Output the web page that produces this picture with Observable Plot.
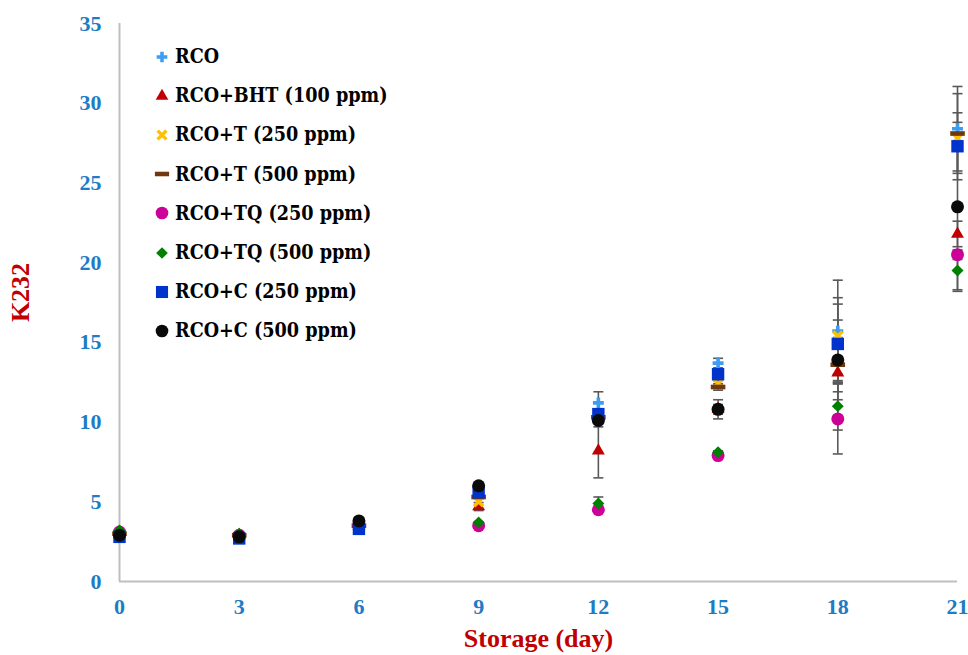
<!DOCTYPE html>
<html><head><meta charset="utf-8">
<script src="https://cdn.jsdelivr.net/npm/d3@7"></script>
<script src="https://cdn.jsdelivr.net/npm/@observablehq/plot@0.6"></script>
<style>
body{margin:0;background:#fff;}
#wrap{position:relative;width:968px;height:655px;overflow:hidden;background:#fff;}
#legend{position:absolute;left:150px;top:37px;font-family:"DejaVu Serif Condensed","DejaVu Serif",serif;font-stretch:condensed;font-weight:bold;font-size:19.6px;color:#000;}
.row{display:flex;align-items:center;height:39.2px;white-space:nowrap;}
.row svg{width:24px;height:20px;flex:none;overflow:visible;}
.row span{margin-left:1px;}
</style></head><body><div id="wrap"></div>
<script>
// ---- data ----
const days = [0, 3, 6, 9, 12, 15, 18, 21];
const xTicks = [0, 3, 6, 9, 12, 15, 18, 21];
const yTicks = [0, 5, 10, 15, 20, 25, 30, 35];
const xTitle = "Storage (day)";
const yTitle = "K232";
const seriesNames = ["RCO", "RCO+BHT (100 ppm)", "RCO+T (250 ppm)", "RCO+T (500 ppm)",
  "RCO+TQ (250 ppm)", "RCO+TQ (500 ppm)", "RCO+C (250 ppm)", "RCO+C (500 ppm)"];
const rco    = [2.9, 2.7, 3.4, 5.5, 11.2, 13.7, 15.7, 28.4];
const bht    = [3.0, 2.9, 3.5, 4.7, 8.2, 10.8, 13.1, 21.8];
const t250   = [3.0, 2.9, 3.5, 5.0, 10.4, 12.4, 15.4, 27.8];
const t500   = [3.0, 2.9, 3.5, 5.3, 10.3, 12.2, 13.6, 28.1];
const tq250  = [3.1, 2.9, 3.5, 3.5, 4.5, 7.9, 10.2, 20.5];
const tq500  = [3.2, 3.0, 3.6, 3.7, 4.9, 8.1, 11.0, 19.5];
const c250   = [2.8, 2.7, 3.3, 5.6, 10.5, 13.0, 14.9, 27.3];
const c500   = [2.9, 2.8, 3.8, 6.0, 10.1, 10.8, 13.9, 23.5];
// standard deviations (error bars)
const rcoErr   = [0, 0, 0, 0, 0.7, 0.3, 3.2, 2.65];
const bhtErr   = [0, 0, 0, 0.25, 1.7, 0.3, 0.5, 0.8];
const t250Err  = [0, 0, 0, 0, 0.3, 0.2, 2.4, 0.6];
const t500Err  = [0, 0, 0, 0, 0.2, 0.2, 1.7, 2.5];
const tq250Err = [0, 0, 0, 0, 0, 0.1, 2.2, 0.3];
const tq500Err = [0, 0, 0, 0, 0.4, 0.1, 1.5, 1.2];
const c250Err  = [0, 0, 0, 0, 0.2, 0.3, 2.5, 2.1];
const c500Err  = [0, 0, 0, 0, 0.4, 0.6, 2.5, 5.3];

const values = [rco, bht, t250, t500, tq250, tq500, c250, c500];
const errors = [rcoErr, bhtErr, t250Err, t500Err, tq250Err, tq500Err, c250Err, c500Err];

// ---- styles ----
const dash = {draw(ctx, size) { const w = Math.sqrt(size) * 1.75, h = w * 0.32; ctx.rect(-w / 2, -h / 2, w, h); }};
const capSym = {draw(ctx, size) { ctx.moveTo(-5, 0); ctx.lineTo(5, 0); }};
const styles = [
  {symbol: d3.symbolCross, r: 4.6, fill: "#3e9cf2"},
  {symbol: d3.symbolTriangle, r: 4.8, fill: "#c00000"},
  {symbol: d3.symbolX, r: 4.2, stroke: "#ffc000", strokeWidth: 3.4},
  {symbol: dash, r: 4.7, fill: "#70380c"},
  {symbol: d3.symbolCircle, r: 6.5, fill: "#cc0099"},
  {symbol: d3.symbolDiamond2, r: 5.4, fill: "#008000"},
  {symbol: d3.symbolSquare, r: 7, fill: "#0033cc"},
  {symbol: d3.symbolCircle, r: 6.5, fill: "#0a0a0a"}
];

const stems = [], caps = [];
values.forEach((vals, i) => vals.forEach((v, j) => {
  const e = errors[i][j];
  if (e > 0) {
    stems.push({x: days[j], y1: v - e, y2: v + e});
    caps.push({x: days[j], y: v + e}, {x: days[j], y: v - e});
  }
}));

const tickBlue = "#1c7cc4";
const titleRed = "#c00000";

const dotMarks = values.map((vals, i) => {
  const s = styles[i];
  const data = vals.map((v, j) => ({x: days[j], y: v}));
  return Plot.dot(data, {x: "x", y: "y", symbol: () => s.symbol, r: s.r,
    fill: s.fill || "none", stroke: s.stroke || "none", strokeWidth: s.strokeWidth || 0});
});

const chart = Plot.plot({
  width: 968, height: 655,
  marginLeft: 119, marginRight: 11, marginTop: 23, marginBottom: 74,
  x: {domain: [0, 21]},
  y: {domain: [0, 35]},
  symbol: {type: "identity"},
  style: {fontFamily: "'Liberation Serif', serif", fontWeight: "bold", overflow: "visible", background: "#fff"},
  marks: [
    Plot.axisY({ticks: yTicks, tickSize: 0, tickPadding: 18, fontSize: 22, fontWeight: "bold", color: tickBlue, label: null}),
    Plot.axisX({ticks: xTicks, tickSize: 0, tickPadding: 17, fontSize: 22, fontWeight: "bold", color: tickBlue, label: null}),
    Plot.ruleX([0], {stroke: "#bfbfbf", strokeWidth: 2}),
    Plot.ruleY([0], {stroke: "#bfbfbf", strokeWidth: 2}),
    Plot.ruleX(stems, {x: "x", y1: "y1", y2: "y2", stroke: "#595959", strokeWidth: 1.6}),
    Plot.dot(caps, {x: "x", y: "y", symbol: () => capSym, stroke: "#595959", strokeWidth: 1.6, r: 3}),
    ...dotMarks,
    Plot.text([yTitle], {frameAnchor: "left", textAnchor: "middle", lineAnchor: "middle", dx: -99, dy: -10, rotate: -90, fontSize: 26, fontWeight: "bold", fill: titleRed}),
    Plot.text([xTitle], {frameAnchor: "bottom", textAnchor: "middle", lineAnchor: "middle", dy: 57, fontSize: 26, fontWeight: "bold", fill: titleRed})
  ]
});
const wrap = document.getElementById("wrap");
wrap.appendChild(chart);

// ---- legend ----
const legend = document.createElement("div");
legend.id = "legend";
seriesNames.forEach((name, i) => {
  const s = styles[i];
  const row = document.createElement("div");
  row.className = "row";
  const svg = d3.create("svg").attr("width", 24).attr("height", 20);
  svg.append("path")
    .attr("transform", "translate(12,10)")
    .attr("d", d3.symbol(s.symbol, Math.PI * s.r * s.r * 0.95)())
    .attr("fill", s.fill || "none")
    .attr("stroke", s.stroke || "none")
    .attr("stroke-width", s.strokeWidth || 0);
  row.appendChild(svg.node());
  const span = document.createElement("span");
  span.textContent = name;
  row.appendChild(span);
  legend.appendChild(row);
});
wrap.appendChild(legend);
</script>
</body></html>
